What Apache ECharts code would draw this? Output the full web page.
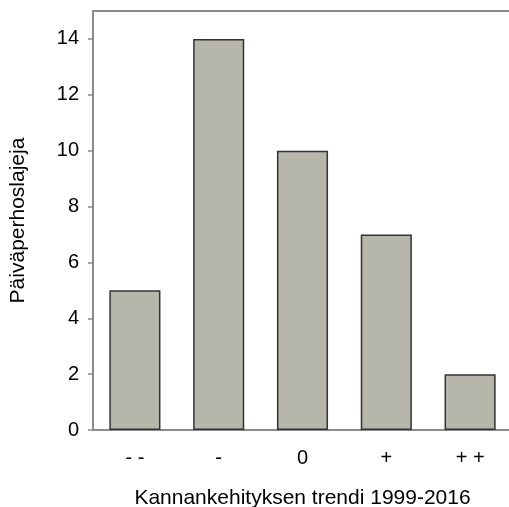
<!DOCTYPE html>
<html><head><meta charset="utf-8">
<script src="https://cdn.jsdelivr.net/npm/echarts@6/dist/echarts.min.js"></script>
<style>html,body{margin:0;padding:0;background:#fff}#c{width:509px;height:507px}</style>
</head><body><div id="c"></div>
<script>
var categories = ['- -', '-', '0', '+', '+ +'];
var values = [5, 14, 10, 7, 2];
var yTicks = [0, 2, 4, 6, 8, 10, 12, 14];
var xTitle = 'Kannankehityksen trendi 1999-2016';
var yTitle = 'Päiväperhoslajeja';

var font = 'Liberation Sans, Arial, sans-serif';
var chart = echarts.init(document.getElementById('c'), null, {renderer: 'canvas'});
chart.setOption({
  animation: false,
  grid: {left: 93, right: -3, top: 11, bottom: 77, outerBoundsMode: 'none', containLabel: false, show: false},
  xAxis: [{
    type: 'category', data: categories,
    name: xTitle, nameLocation: 'middle', nameGap: 58,
    nameTextStyle: {fontFamily: font, fontSize: 21, color: '#000'},
    axisLine: {lineStyle: {color: '#8a8a8a', width: 2}},
    axisTick: {alignWithLabel: true, length: 5, lineStyle: {color: '#8a8a8a', width: 1.5}},
    axisLabel: {fontFamily: font, fontSize: 20, color: '#000', margin: 18}
  }, {
    type: 'category', data: categories, position: 'top',
    axisLine: {show: true, lineStyle: {color: '#8a8a8a', width: 2}},
    axisTick: {show: false}, axisLabel: {show: false}
  }],
  yAxis: {
    type: 'value', min: 0, max: 15, interval: 2,
    name: yTitle, nameLocation: 'middle', nameGap: 64,
    nameTextStyle: {fontFamily: font, fontSize: 21, color: '#000'},
    axisLine: {show: true, lineStyle: {color: '#8a8a8a', width: 2}},
    axisTick: {show: true, length: 5, lineStyle: {color: '#8a8a8a', width: 1.5}},
    splitLine: {show: false},
    axisLabel: {fontFamily: font, fontSize: 20, color: '#000', margin: 14, showMaxLabel: false,
      formatter: function(v){ return yTicks.indexOf(v) >= 0 ? String(v) : ''; }}
  },
  series: [{
    type: 'bar', data: values, barWidth: '61%', xAxisIndex: 0,
    itemStyle: {color: '#b6b6aa', borderColor: '#333', borderWidth: 1.5}
  }]
});
</script></body></html>
